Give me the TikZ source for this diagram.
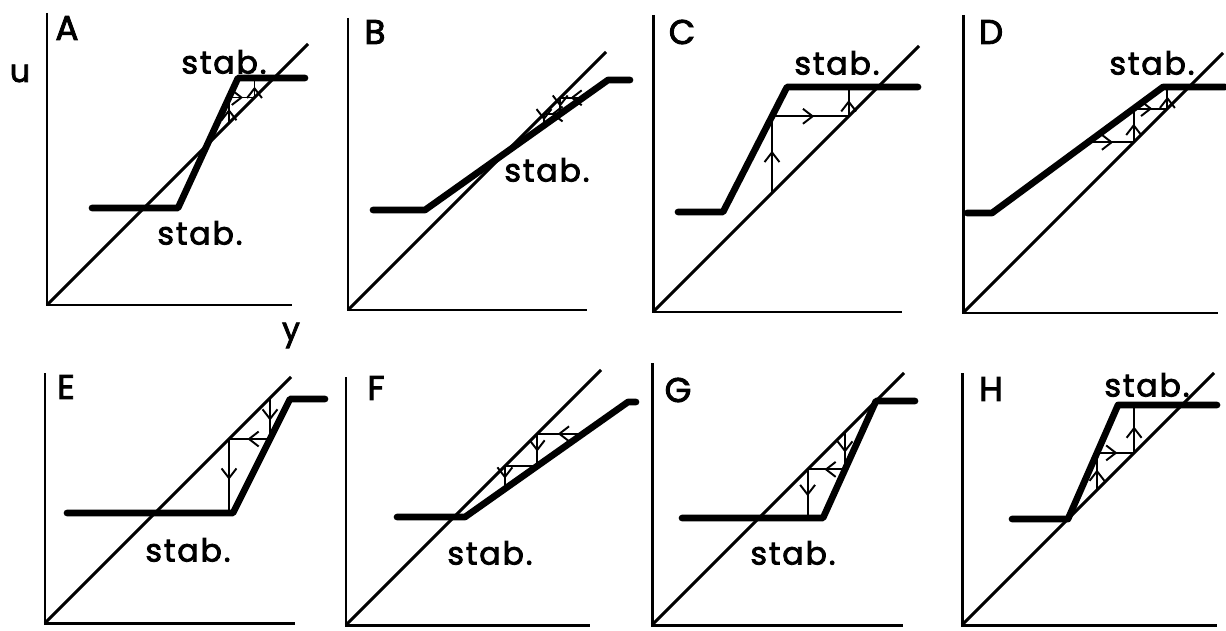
\documentclass[tikz,border=0pt]{standalone}
\usepackage{fontspec}
\setmainfont{Poppins}
\newfontfamily\lettering[LetterSpace=6,FakeBold=2.6]{Poppins}
\usetikzlibrary{arrows.meta,decorations.markings}

\tikzset{
  axes/.style={line width=1.7pt},
  diag/.style={line width=1.7pt},
  resp/.style={line width=3.8pt,line cap=round,line join=round},
  web/.style={line width=1.1pt},
  midarr/.style={postaction={decorate},decoration={markings,
      mark=at position 0.55 with {\arrow{Straight Barb[length=5.5pt,width=8.5pt]}}}},
  lbl/.style={font=\lettering\fontsize{18}{20}\selectfont,inner sep=0pt},
  panlet/.style={font=\lettering\fontsize{19.5}{22}\selectfont,inner sep=0pt},
}

\begin{document}
\begin{tikzpicture}[x=0.02cm,y=0.02cm]
\useasboundingbox (0,0) rectangle (1226,630);

% A
\begin{scope}[shift={(47,325)}]
  \draw[axes] (0,292) -- (0,0) -- (245,0);
  \draw[diag] (0,0) -- (261,261);
  \draw[resp] (45,97) -- (131,97) -- (191,227) -- (258,227);
  \draw[web,midarr] (182,182) -- (182,207.5);
  \draw[web,midarr] (182,207.5) -- (207.5,207.5);
  \draw[web,midarr] (207.5,207.5) -- (207.5,227);
  \node[panlet] (capA) at (20,277) {A};
  \node[lbl,anchor=base] (uA) at (-27,223) {u};
  \node[lbl] (stabA1) at (177,243) {stab.};
  \node[lbl] (stabA2) at (153,72) {stab.};
\end{scope}

% B
\begin{scope}[shift={(348,320)}]
  \draw[axes] (0,292) -- (0,0) -- (239,0);
  \draw[diag] (0,0) -- (258,258);
  \draw[resp] (25,100) -- (77,100) -- (260,230) -- (282,230);
  \draw[web,midarr] (235,212.2) -- (212.2,212.2);
  \draw[web,midarr] (212.2,212.2) -- (212.2,196);
  \draw[web,midarr] (212.2,196) -- (196,196);
  \draw[web,midarr] (196,196) -- (196,184.5);
  \node[panlet] (capB) at (27,278) {B};
  \node[lbl] (stabB) at (199,140) {stab.};
\end{scope}

% C
\begin{scope}[shift={(653,318)}]
  \draw[axes] (0,297) -- (0,0) -- (249,0);
  \draw[diag] (0,0) -- (266,266);
  \draw[resp] (25,100) -- (70,100) -- (134,225) -- (265,225);
  \draw[web,midarr] (119,119) -- (119,195.7);
  \draw[web,midarr] (119,195.7) -- (195.7,195.7);
  \draw[web,midarr] (195.7,195.7) -- (195.7,225);
  \node[panlet] (capC) at (29,280) {C};
  \node[lbl] (stabC) at (184,249) {stab.};
\end{scope}

% D
\begin{scope}[shift={(963,317)}]
  \draw[axes] (0,298) -- (0,0) -- (255,0);
  \draw[diag] (0,0) -- (260,260);
  \draw[resp] (4,100) -- (29,100) -- (200,226) -- (262,226);
  \draw[web,midarr] (125,170.7) -- (170.7,170.7);
  \draw[web,midarr] (170.7,170.7) -- (170.7,204.4);
  \draw[web,midarr] (170.7,204.4) -- (204.4,204.4);
  \draw[web,midarr] (204.4,204.4) -- (204.4,226);
  \node[panlet] (capD) at (28,281) {D};
  \node[lbl] (stabD) at (189,250) {stab.};
\end{scope}

% E
\begin{scope}[shift={(45,7)}]
  \draw[axes] (0,250) -- (0,0) -- (250,0);
  \draw[diag] (0,0) -- (246,246);
  \draw[resp] (22,110) -- (188,110) -- (245,224) -- (280,224);
  \draw[web,midarr] (225,225) -- (225,184);
  \draw[web,midarr] (225,184) -- (184,184);
  \draw[web,midarr] (184,184) -- (184,110);
  \node[panlet] (capE) at (21,236) {E};
  \node[lbl,anchor=base] (yE) at (246,283) {y};
  \node[lbl] (stabE) at (143,73) {stab.};
\end{scope}

% F
\begin{scope}[shift={(346,5)}]
  \draw[axes] (0,248) -- (0,0) -- (244,0);
  \draw[diag] (0,0) -- (255,255);
  \draw[resp] (51,108) -- (119,108) -- (282,223) -- (290,223);
  \draw[web,midarr] (237,191.2) -- (191.2,191.2);
  \draw[web,midarr] (191.2,191.2) -- (191.2,158.9);
  \draw[web] (191.2,158.9) -- (158.9,158.9);
  \draw[web,midarr] (158.9,158.9) -- (158.9,136.2);
  \node[panlet] (capF) at (30,237) {F};
  \node[lbl] (stabF) at (144,72) {stab.};
\end{scope}

% G
\begin{scope}[shift={(652,5)}]
  \draw[axes] (0,262) -- (0,0) -- (251,0);
  \draw[diag] (0,0) -- (252,252);
  \draw[resp] (30,107) -- (171,107) -- (224,224) -- (263,224);
  \draw[web,midarr] (193,193) -- (193,155.6);
  \draw[web,midarr] (193,155.6) -- (155.6,155.6);
  \draw[web,midarr] (155.6,155.6) -- (155.6,107);
  \node[panlet] (capG) at (26,235) {G};
  \node[lbl] (stabG) at (141,72) {stab.};
\end{scope}

% H
\begin{scope}[shift={(962,5)}]
  \draw[axes] (0,252) -- (0,0) -- (255,0);
  \draw[diag] (0,0) -- (252,252);
  \draw[resp] (50,106) -- (106,106) -- (156,220) -- (255,220);
  \draw[web,midarr] (135,135) -- (135,172.1);
  \draw[web,midarr] (135,172.1) -- (172.1,172.1);
  \draw[web,midarr] (172.1,172.1) -- (172.1,220);
  \node[panlet] (capH) at (29,236) {H};
  \node[lbl] (stabH) at (185,240) {stab.};
\end{scope}

\end{tikzpicture}
\end{document}
